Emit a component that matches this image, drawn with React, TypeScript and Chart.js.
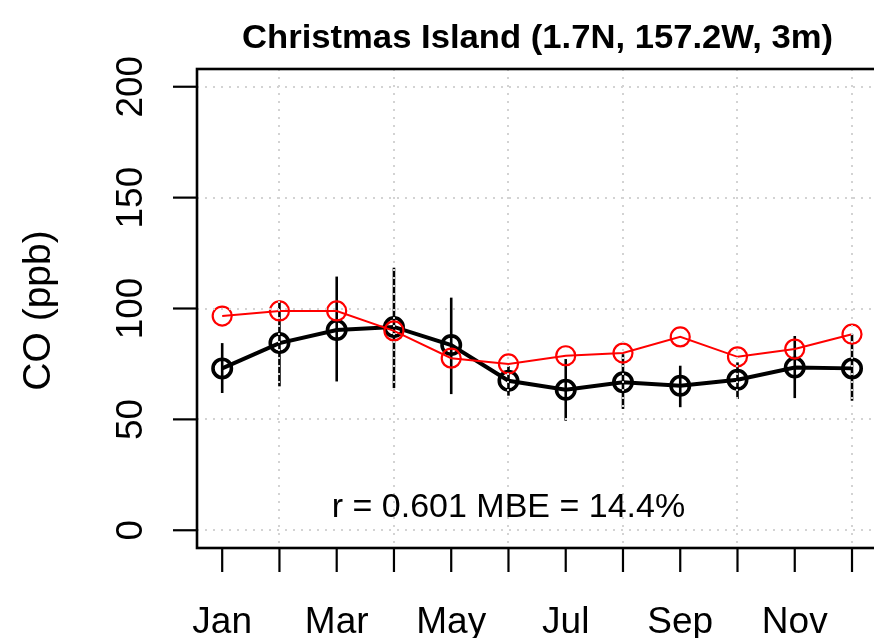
import React, { useEffect, useRef } from "react";
import { Chart, registerables } from "chart.js";

Chart.register(...registerables);

const months = ["Jan", "Feb", "Mar", "Apr", "May", "Jun", "Jul", "Aug", "Sep", "Oct", "Nov", "Dec"];
const obsMean = [73.0, 84.4, 90.3, 91.7, 83.5, 67.4, 63.4, 66.7, 65.2, 67.9, 73.4, 73.0];
const obsHigh = [84.4, 103.5, 114.4, 118.4, 104.9, 74.0, 77.2, 79.4, 74.2, 75.7, 87.6, 88.4];
const obsLow = [61.9, 64.9, 67.1, 64.1, 61.4, 60.7, 49.4, 54.7, 55.5, 59.2, 59.6, 58.4];
const modelMean = [96.6, 98.9, 98.9, 89.9, 77.6, 75.0, 78.7, 79.9, 87.2, 78.2, 81.7, 88.4];
const yTicks = [0, 50, 100, 150, 200];
const xGridMonths = [2, 4, 6, 8, 10, 12];
const labeledMonths = [1, 3, 5, 7, 9, 11];
const titleText = "Christmas Island (1.7N, 157.2W, 3m)";
const yTitle = "CO (ppb)";
const statsText = "r = 0.601 MBE = 14.4%";

const FONT = "'Liberation Sans', Arial, Helvetica, sans-serif";

const customDraw = {
  id: "customDraw",
  beforeDatasetsDraw(chart: any) {
    const { ctx } = chart;
    const xs = chart.scales.x;
    const ys = chart.scales.y;
    ctx.save();
    ctx.strokeStyle = "#000";
    ctx.lineWidth = 2.6;
    for (let i = 0; i < months.length; i++) {
      const px = xs.getPixelForValue(i + 1);
      ctx.beginPath();
      ctx.moveTo(px, ys.getPixelForValue(obsLow[i]));
      ctx.lineTo(px, ys.getPixelForValue(obsHigh[i]));
      ctx.stroke();
    }
    ctx.restore();
  },
  afterDatasetsDraw(chart: any) {
    const { ctx, chartArea } = chart;
    const xs = chart.scales.x;
    const ys = chart.scales.y;
    const { left, right, top, bottom } = chartArea;
    ctx.save();
    // dotted grid drawn over the data
    ctx.strokeStyle = "#d3d3d3";
    ctx.lineWidth = 2;
    ctx.setLineDash([2, 6]);
    for (const v of yTicks) {
      const py = Math.round(ys.getPixelForValue(v));
      ctx.beginPath();
      ctx.moveTo(left, py);
      ctx.lineTo(right, py);
      ctx.stroke();
    }
    for (const m of xGridMonths) {
      const px = Math.round(xs.getPixelForValue(m));
      ctx.beginPath();
      ctx.moveTo(px, top);
      ctx.lineTo(px, bottom);
      ctx.stroke();
    }
    ctx.setLineDash([]);
    // box
    ctx.strokeStyle = "#000";
    ctx.lineWidth = 2.6;
    ctx.strokeRect(left, top, right - left, bottom - top);
    // ticks
    ctx.lineWidth = 2.2;
    for (let i = 0; i < months.length; i++) {
      const px = xs.getPixelForValue(i + 1);
      ctx.beginPath();
      ctx.moveTo(px, bottom);
      ctx.lineTo(px, bottom + 24);
      ctx.stroke();
    }
    for (const v of yTicks) {
      const py = ys.getPixelForValue(v);
      ctx.beginPath();
      ctx.moveTo(left - 24, py);
      ctx.lineTo(left, py);
      ctx.stroke();
    }
    ctx.fillStyle = "#000";
    // x labels
    ctx.font = `37px ${FONT}`;
    ctx.textAlign = "center";
    ctx.textBaseline = "alphabetic";
    for (const m of labeledMonths) {
      ctx.fillText(months[m - 1], xs.getPixelForValue(m), 633);
    }
    // y labels rotated
    for (const v of yTicks) {
      ctx.save();
      ctx.translate(left - 55, ys.getPixelForValue(v));
      ctx.rotate(-Math.PI / 2);
      ctx.textAlign = "center";
      ctx.textBaseline = "alphabetic";
      ctx.fillText(String(v), 0, 0);
      ctx.restore();
    }
    // y title
    ctx.save();
    ctx.font = `39px ${FONT}`;
    ctx.translate(50, (top + bottom) / 2 + 2);
    ctx.rotate(-Math.PI / 2);
    ctx.textAlign = "center";
    ctx.textBaseline = "alphabetic";
    ctx.fillText(yTitle, 0, 0);
    ctx.restore();
    // title
    ctx.save();
    ctx.font = `bold 34px ${FONT}`;
    const w = ctx.measureText(titleText).width;
    const sx = 591 / w;
    ctx.translate(537.5, 48);
    ctx.scale(sx, 1);
    ctx.textAlign = "center";
    ctx.textBaseline = "alphabetic";
    ctx.fillText(titleText, 0, 0);
    ctx.restore();
    // stats
    ctx.font = `34px ${FONT}`;
    ctx.textAlign = "center";
    ctx.textBaseline = "middle";
    ctx.fillText(statsText, xs.getPixelForValue(6), ys.getPixelForValue(10));
    ctx.restore();
  },
};

export default function App() {
  const ref = useRef<HTMLCanvasElement | null>(null);
  useEffect(() => {
    if (!ref.current) return;
    const chart = new Chart(ref.current, {
      type: "line",
      data: {
        datasets: [
          {
            label: "Model",
            data: modelMean.map((v, i) => ({ x: i + 1, y: v })),
            borderColor: "#ff0000",
            borderWidth: 2,
            pointRadius: 9.5,
            pointBorderWidth: 2.2,
            pointBorderColor: "#ff0000",
            pointBackgroundColor: "rgba(0,0,0,0)",
            tension: 0,
            order: 0,
          },
          {
            label: "Observations",
            data: obsMean.map((v, i) => ({ x: i + 1, y: v })),
            borderColor: "#000000",
            borderWidth: 4,
            pointRadius: 9.2,
            pointBorderWidth: 3.6,
            pointBorderColor: "#000000",
            pointBackgroundColor: "rgba(0,0,0,0)",
            tension: 0,
            order: 1,
          },
        ],
      },
      options: {
        responsive: false,
        animation: false,
        devicePixelRatio: 1,
        layout: { padding: { left: 0, top: 69, right: 7, bottom: 0 } },
        plugins: { legend: { display: false }, tooltip: { enabled: false }, title: { display: false } },
        scales: {
          x: {
            type: "linear",
            min: 0.56,
            max: 12.44,
            grid: { display: false },
            border: { display: false },
            ticks: { display: false },
            afterFit: (s: any) => {
              s.height = 90;
            },
          },
          y: {
            type: "linear",
            min: -8,
            max: 208,
            grid: { display: false },
            border: { display: false },
            ticks: { display: false },
            afterFit: (s: any) => {
              s.width = 197;
            },
          },
        },
      },
      plugins: [customDraw],
    });
    return () => chart.destroy();
  }, []);
  return (
    <div style={{ position: "absolute", left: 0, top: 0, width: 874, height: 638, overflow: "hidden", background: "#fff" }}>
      <canvas ref={ref} width={890} height={638} style={{ width: 890, height: 638 }} />
    </div>
  );
}
